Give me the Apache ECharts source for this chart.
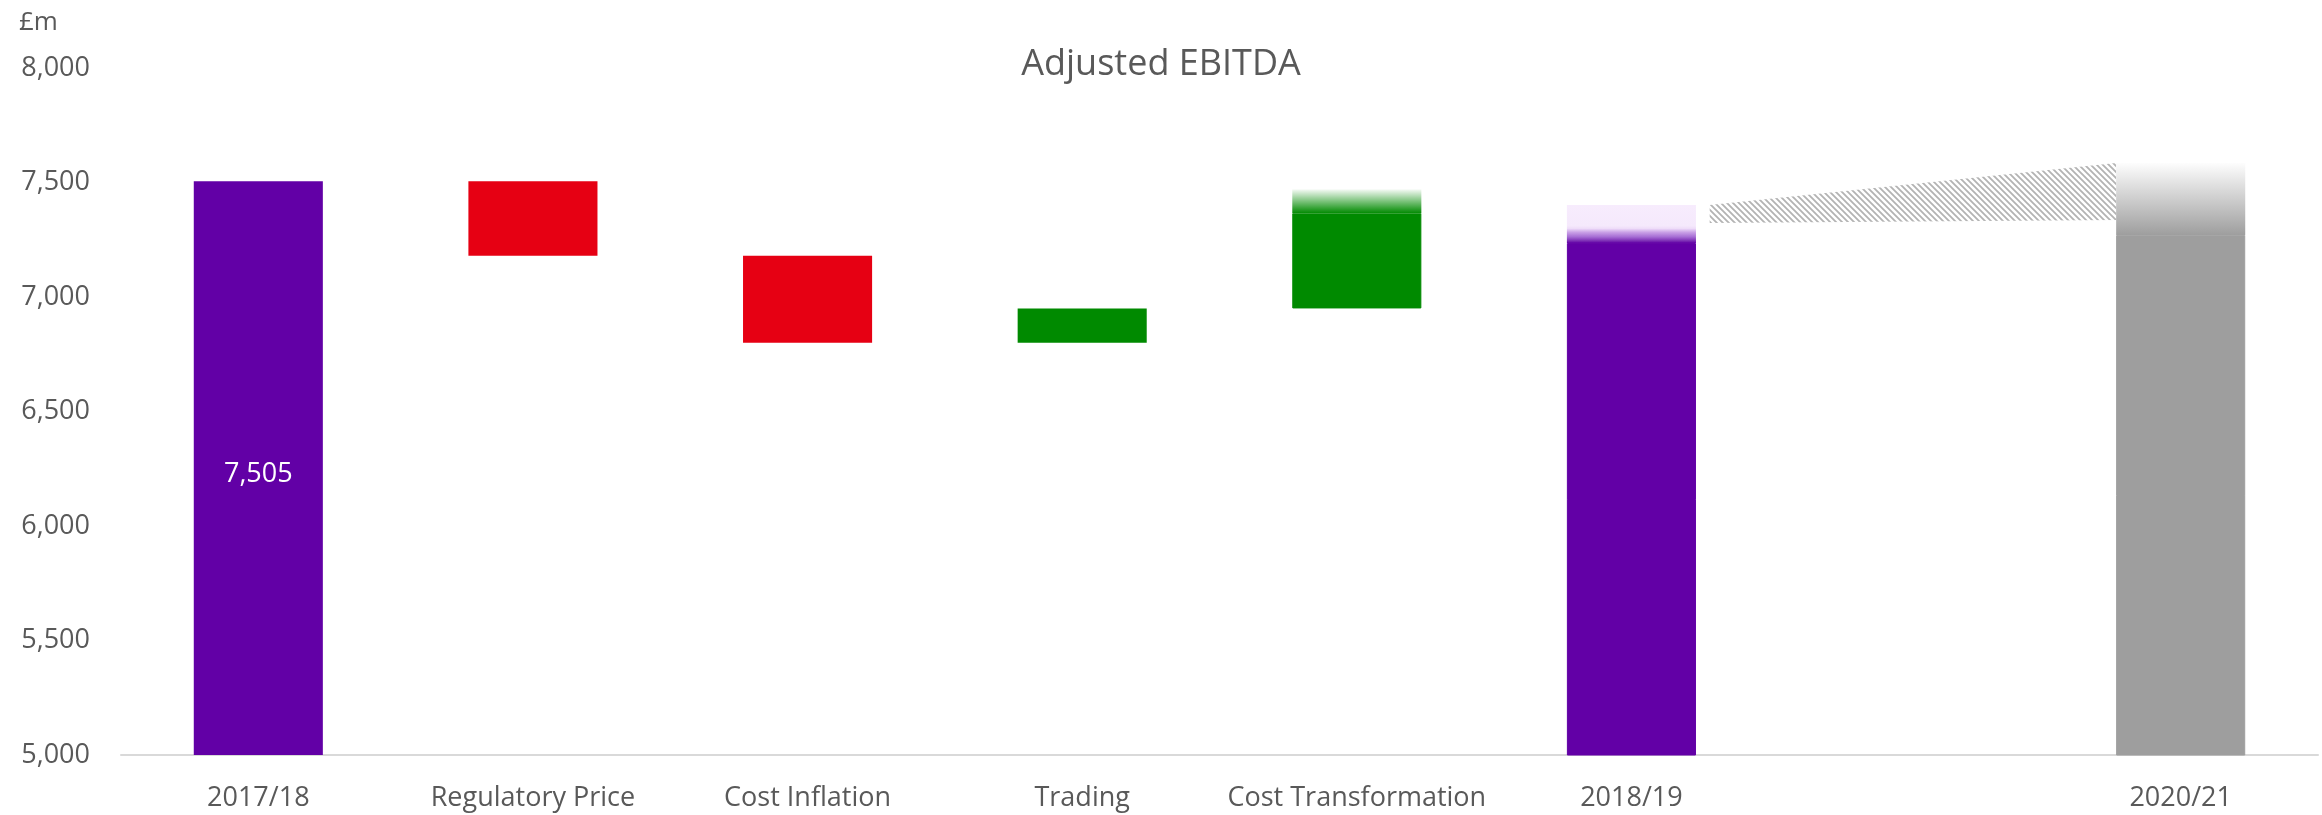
<!DOCTYPE html>
<html>
<head>
<meta charset="utf-8">
<script src="https://cdn.jsdelivr.net/npm/echarts@6/dist/echarts.min.js"></script>
<style>
  html, body { margin:0; padding:0; background:#fff; }
  #chartmain { width:2322px; height:815px; }
</style>
</head>
<body>
<div id="chartmain"></div>
<script>
/* data */
var categories = ['2017/18', 'Regulatory Price', 'Cost Inflation', 'Trading', 'Cost Transformation', '2018/19', '', '2020/21'];
var baseValues = [0, 7180, 6800, 6800, 6950, 0, 0, 0];      // invisible floor of the walk
var barValues  = [7505, 325, 380, 150, 415, 7236, 0, 7270]; // solid part
var fadeValues = [0, 0, 0, 0, 105, 166, 0, 315];            // faded top (range)
var barColors  = ['#6200a6', '#e60013', '#e60013', '#008a00', '#008a00', '#6200a6', '#9e9e9e', '#9e9e9e'];
var yTicks = [5000, 8000, 500];  // min, max, step
// hatched bridge between 2018/19 range and 2020/21 range: [index, top, bottom]
var bridgeFrom = [5, 7402, 7323];
var bridgeTo   = [7, 7585, 7336];

var textColor = '#595959';
var fontName = '"Open Sans", "Noto Sans", sans-serif';

var makeHatch = function(){
    var c = document.createElement('canvas');
    c.width = 6; c.height = 6;
    var ctx = c.getContext('2d');
    ctx.fillStyle = '#ffffff';
    ctx.fillRect(0, 0, 6, 6);
    ctx.strokeStyle = '#b3b3b3';
    ctx.lineWidth = 1.8;
    ctx.beginPath();
    ctx.moveTo(-1, -1); ctx.lineTo(7, 7);
    ctx.moveTo(-1, 5); ctx.lineTo(1, 7);
    ctx.moveTo(5, -1); ctx.lineTo(7, 1);
    ctx.stroke();
    return c;
};

var fadeGradient = function(i){
    if (i === 5) {
        // stepped lavender to purple
        return new echarts.graphic.LinearGradient(0, 0, 0, 1, [
            {offset: 0, color: '#f7ecfd'},
            {offset: 0.55, color: '#f5e9fc'},
            {offset: 0.62, color: '#eedcf9'},
            {offset: 0.72, color: '#c9a0e6'},
            {offset: 0.84, color: '#a66dd4'},
            {offset: 0.95, color: '#7a2bb3'},
            {offset: 1, color: barColors[i]}
        ]);
    }
    if (i === 4) {
        return new echarts.graphic.LinearGradient(0, 0, 0, 1, [
            {offset: 0, color: 'rgba(0,138,0,0.04)'},
            {offset: 1, color: barColors[i]}
        ]);
    }
    return new echarts.graphic.LinearGradient(0, 0, 0, 1, [
        {offset: 0, color: '#fdfdfd'},
        {offset: 1, color: barColors[i]}
    ]);
};

var hatch = makeHatch();
var chart = echarts.init(document.getElementById('chartmain'));

var option = {
    animation: false,
    backgroundColor: '#ffffff',
    textStyle: {fontFamily: fontName},
    title: [
        {text: 'Adjusted EBITDA', left: 'center', top: 42,
            textStyle: {fontSize: 36, fontWeight: 'normal', color: textColor, fontFamily: fontName}},
        {text: '£m', left: 14, top: 5,
            textStyle: {fontSize: 26, fontWeight: 'normal', color: textColor, fontFamily: fontName}}
    ],
    grid: {left: 121, right: 4, top: 68, bottom: 60, containLabel: false},
    xAxis: {
        type: 'category',
        data: categories,
        axisLine: {lineStyle: {color: '#d9d9d9', width: 2}},
        axisTick: {show: false},
        axisLabel: {color: textColor, fontSize: 27, margin: 30, fontFamily: fontName, interval: 0}
    },
    yAxis: {
        type: 'value',
        min: yTicks[0], max: yTicks[1], interval: yTicks[2],
        splitLine: {show: false},
        axisLine: {show: false},
        axisTick: {show: false},
        axisLabel: {
            color: textColor, fontSize: 27, margin: 31, fontFamily: fontName,
            formatter: function(v){ return v.toLocaleString('en-GB'); }
        }
    },
    series: [
        {
            name: 'base', type: 'bar', stack: 'walk', barWidth: '47%',
            itemStyle: {color: 'transparent'},
            silent: true,
            data: baseValues
        },
        {
            name: 'value', type: 'bar', stack: 'walk', barWidth: '47%',
            data: barValues.map(function(v, i){
                return {
                    value: v,
                    // border in the same colour hides the seam under the faded top
                    itemStyle: {color: barColors[i], borderColor: barColors[i], borderWidth: fadeValues[i] ? 1 : 0},
                    label: {
                        show: i === 0, position: 'inside', color: '#ffffff',
                        fontSize: 27, fontFamily: fontName, offset: [0, 6],
                        formatter: function(p){ return p.value.toLocaleString('en-GB'); }
                    }
                };
            })
        },
        {
            name: 'range', type: 'bar', stack: 'walk', barWidth: '47%',
            data: fadeValues.map(function(v, i){
                return {value: v, itemStyle: {color: v ? fadeGradient(i) : 'transparent'}};
            })
        },
        {
            name: 'bridge', type: 'custom',
            encode: {x: [0, 3], y: [1, 2, 4, 5]},
            renderItem: function(params, api){
                var cw = api.size([1, 0])[0];
                var half = cw * 0.47 / 2;
                var gap = cw * 0.05;
                var a1 = api.coord([api.value(0), api.value(1)]);
                var a2 = api.coord([api.value(0), api.value(2)]);
                var b1 = api.coord([api.value(3), api.value(4)]);
                var b2 = api.coord([api.value(3), api.value(5)]);
                var x1 = a1[0] + half + gap;
                var x2 = b1[0] - half;
                return {
                    type: 'polygon',
                    shape: {points: [[x1, a1[1]], [x2, b1[1]], [x2, b2[1]], [x1, a2[1]]]},
                    style: {fill: {image: hatch, repeat: 'repeat'}}
                };
            },
            data: [[bridgeFrom[0], bridgeFrom[1], bridgeFrom[2], bridgeTo[0], bridgeTo[1], bridgeTo[2]]]
        }
    ]
};

chart.setOption(option);
</script>
</body>
</html>
